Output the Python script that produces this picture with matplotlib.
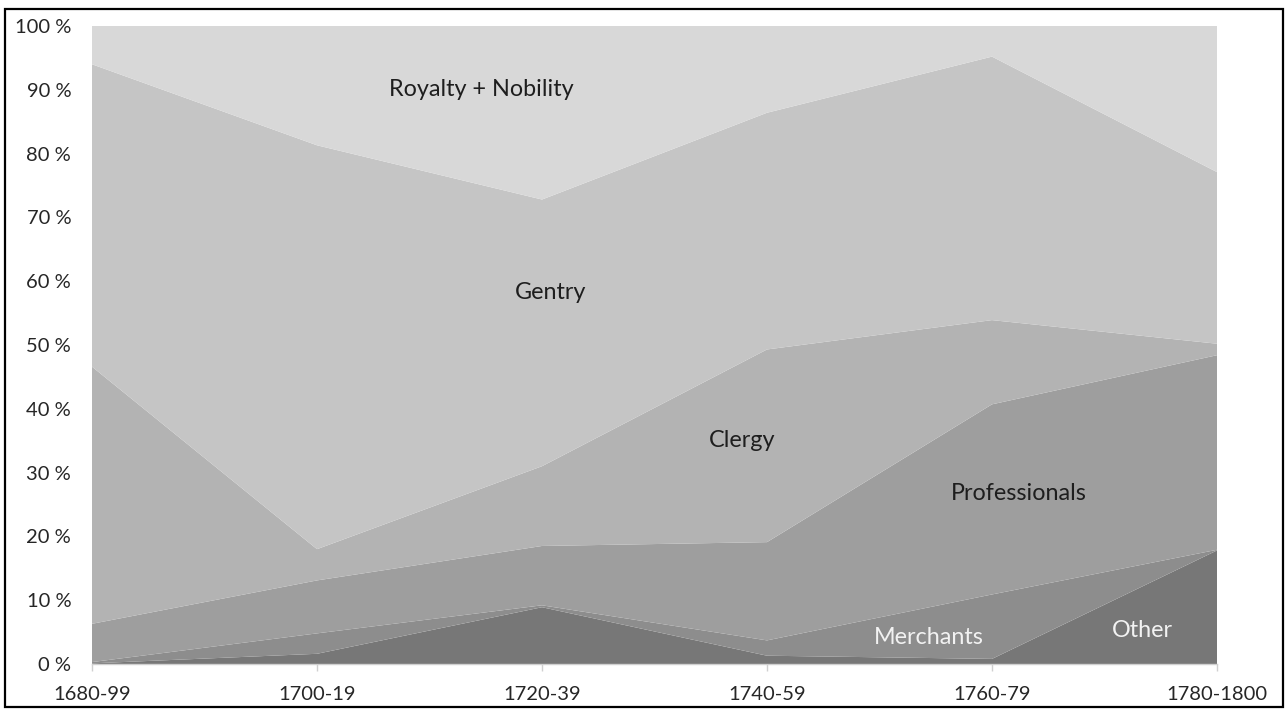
"""
Social composition by period, stacked 100 % area chart (greyscale).
"""

import matplotlib.pyplot as plt
import matplotlib as mpl
from matplotlib.patches import Rectangle

periods = ["1680-99", "1700-19", "1720-39", "1740-59", "1760-79", "1780-1800"]

# shares in percent, bottom layer first
other = [0.1, 1.6, 8.9, 1.3, 0.8, 17.8]
merchants = [0.2, 3.2, 0.3, 2.4, 10.1, 0.1]
professionals = [6.0, 8.3, 9.3, 15.4, 29.8, 30.5]
clergy = [40.3, 4.9, 12.5, 30.2, 13.2, 1.8]
gentry = [47.4, 63.3, 41.8, 37.1, 41.3, 26.9]
royalty_nobility = [6.0, 18.7, 27.2, 13.6, 4.8, 22.9]

layer_colors = ["#777777", "#8d8d8d", "#9e9e9e", "#b3b3b3", "#c5c5c5", "#d8d8d8"]

# in-area labels: (text, x index, y percent, colour)
area_labels = [
    ("Royalty + Nobility", 1.73, 90.1, "#1e1e1e"),
    ("Gentry", 2.04, 58.2, "#1e1e1e"),
    ("Clergy", 2.89, 35.0, "#1e1e1e"),
    ("Professionals", 4.12, 26.8, "#1e1e1e"),
    ("Merchants", 3.72, 4.2, "#f2f2f2"),
    ("Other", 4.67, 5.3, "#f2f2f2"),
]


def configure_matplotlib_fonts() -> None:
    mpl.rcParams["font.family"] = ["Lato", "DejaVu Sans"]
    mpl.rcParams["font.size"] = 14.5


def main() -> None:
    configure_matplotlib_fonts()

    fig = plt.figure(figsize=(12.86, 7.09), dpi=100)
    ax = fig.add_axes([92 / 1286, 1 - 664 / 709, (1217 - 92) / 1286, (664 - 26) / 709])

    x = list(range(len(periods)))
    ax.stackplot(
        x,
        other, merchants, professionals, clergy, gentry, royalty_nobility,
        colors=layer_colors,
        linewidth=0,
        antialiased=True,
    )

    ax.set_xlim(0, len(periods) - 1)
    ax.set_ylim(0, 100)
    ax.set_xticks(x)
    ax.set_xticklabels(periods, color="#262626")
    ax.set_yticks(range(0, 101, 10))
    ax.set_yticklabels([f"{v} %" for v in range(0, 101, 10)], color="#262626")

    ax.tick_params(axis="x", length=5, width=1, color="#d0d0d0", pad=11)
    ax.tick_params(axis="y", length=0, pad=15)

    for side in ("top", "right", "left"):
        ax.spines[side].set_visible(False)
    ax.spines["bottom"].set_color("#d0d0d0")
    ax.spines["bottom"].set_linewidth(1)

    for text, lx, ly, col in area_labels:
        ax.text(lx, ly, text, ha="center", va="center", color=col, fontsize=16.8)

    # outer frame around the whole picture
    fig.patches.append(
        Rectangle(
            (5 / 1286, 2 / 709), 1278 / 1286, 698 / 709,
            transform=fig.transFigure, fill=False, edgecolor="black", linewidth=1.6,
        )
    )

    fig.savefig("out.png", dpi=100)
    plt.close(fig)


if __name__ == "__main__":
    main()
